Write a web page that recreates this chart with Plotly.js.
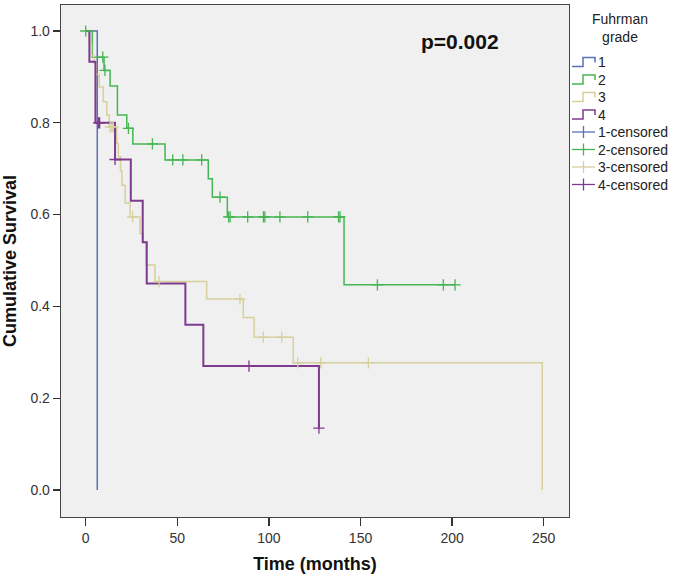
<!DOCTYPE html>
<html><head><meta charset="utf-8">
<script src="https://cdn.plot.ly/plotly-3.0.1.min.js"></script>
<style>html,body{margin:0;padding:0;background:#fff}#chart{width:673px;height:578px}</style>
</head><body><div id="chart"></div>
<script>
// ---- data (time in months, cumulative survival) ----
const grades = ['1', '2', '3', '4'];
const legendTitle = 'Fuhrman<br>grade';
const pText = 'p=0.002';

const g1Time = [0, 6.3];
const g1Surv = [1.0, 0.0];
const g1CensTime = [];
const g1CensSurv = [];

const g2Time = [0, 3.6, 10.0, 13.3, 17.3, 22.4, 25.7, 43.3, 66.9, 69.1, 77.3, 141.0, 201.6];
const g2Surv = [1.0, 0.943, 0.914, 0.880, 0.817, 0.788, 0.754, 0.719, 0.678, 0.638, 0.595, 0.447, 0.447];
const g2CensTime = [0, 9.3, 10.5, 23.3, 36.4, 47.5, 53.0, 63.3, 73.3, 78.0, 78.8, 88.4, 97.0, 97.8, 106.0, 121.2, 138.0, 138.8, 159.2, 195.2, 201.6];
const g2CensSurv = [1.0, 0.943, 0.914, 0.788, 0.754, 0.719, 0.719, 0.719, 0.638, 0.595, 0.595, 0.595, 0.595, 0.595, 0.595, 0.595, 0.595, 0.595, 0.447, 0.447, 0.447];

const g3Time = [0, 2.0, 3.2, 4.5, 5.6, 7.4, 9.6, 11.5, 12.8, 16.9, 17.8, 19.0, 19.8, 21.5, 24.2, 29.6, 31.4, 32.9, 37.8, 66.0, 86.0, 91.9, 113.3, 249.2];
const g3Surv = [1.0, 0.973, 0.946, 0.930, 0.905, 0.878, 0.846, 0.817, 0.791, 0.755, 0.726, 0.695, 0.664, 0.625, 0.595, 0.559, 0.541, 0.490, 0.454, 0.416, 0.376, 0.333, 0.277, 0.0];
const g3CensTime = [13.3, 14.3, 15.1, 25.6, 40.0, 84.2, 96.9, 107.0, 115.7, 128.3, 154.3];
const g3CensSurv = [0.791, 0.791, 0.791, 0.595, 0.454, 0.416, 0.333, 0.333, 0.277, 0.277, 0.277];

const g4Time = [0, 2.0, 5.3, 16.0, 24.6, 31.1, 33.3, 54.4, 64.2, 127.3];
const g4Surv = [1.0, 0.933, 0.800, 0.720, 0.630, 0.540, 0.450, 0.360, 0.270, 0.135];
const g4CensTime = [7.0, 7.6, 16.0, 89.1, 127.3];
const g4CensSurv = [0.800, 0.800, 0.720, 0.270, 0.135];

const xTicks = [0, 50, 100, 150, 200, 250];
const yTicks = [0.0, 0.2, 0.4, 0.6, 0.8, 1.0];

// ---- styling ----
const colors = ['#5a6fb6', '#45b653', '#d6d09c', '#7e3a8e'];
const widths = [1.5, 1.5, 1.5, 2];
const series = [
  {t: g1Time, s: g1Surv, ct: g1CensTime, cs: g1CensSurv},
  {t: g2Time, s: g2Surv, ct: g2CensTime, cs: g2CensSurv},
  {t: g3Time, s: g3Surv, ct: g3CensTime, cs: g3CensSurv},
  {t: g4Time, s: g4Surv, ct: g4CensTime, cs: g4CensSurv}
];

const traces = [];
series.forEach((d, i) => {
  traces.push({x: d.t, y: d.s, type: 'scatter', mode: 'lines', name: grades[i],
    line: {shape: 'hv', color: colors[i], width: widths[i]}, showlegend: false, hoverinfo: 'skip'});
});
series.forEach((d, i) => {
  traces.push({x: d.ct, y: d.cs, type: 'scatter', mode: 'markers', name: grades[i] + '-censored',
    marker: {symbol: 'cross-thin', size: 8, color: colors[i], line: {color: colors[i], width: 1.3}},
    showlegend: false, hoverinfo: 'skip'});
});

// plot area in pixels
const L = 61, R = 569, T = 5, B = 517;
const px = v => (v - L) / (R - L);
const py = v => (B - v) / (B - T);

const shapes = [];
const annotations = [];
const rowY = [62, 79.5, 97, 114.5, 132, 149.5, 167, 184.5];
grades.forEach((g, i) => {
  const y = rowY[i];
  shapes.push({type: 'path', xref: 'paper', yref: 'paper',
    path: `M${px(572)},${py(y + 4.5)} L${px(583)},${py(y + 4.5)} L${px(583)},${py(y - 4.5)} L${px(595)},${py(y - 4.5)} L${px(595)},${py(y + 0.5)}`,
    line: {color: colors[i], width: 1.5}});
  annotations.push({xref: 'paper', yref: 'paper', x: px(596), y: py(y), xanchor: 'left', yanchor: 'middle',
    text: g, showarrow: false, font: {family: 'Liberation Sans, Arial', size: 14, color: '#222'}});
});
grades.forEach((g, i) => {
  const y = rowY[i + 4];
  shapes.push({type: 'line', xref: 'paper', yref: 'paper', x0: px(572), x1: px(595), y0: py(y), y1: py(y),
    line: {color: colors[i], width: 1.3}});
  shapes.push({type: 'line', xref: 'paper', yref: 'paper', x0: px(583.5), x1: px(583.5), y0: py(y - 6), y1: py(y + 6),
    line: {color: colors[i], width: 1.3}});
  annotations.push({xref: 'paper', yref: 'paper', x: px(596), y: py(y), xanchor: 'left', yanchor: 'middle',
    text: g + '-censored', showarrow: false, font: {family: 'Liberation Sans, Arial', size: 14, color: '#222'}});
});
annotations.push({xref: 'paper', yref: 'paper', x: px(620), y: py(27.5), xanchor: 'center', yanchor: 'middle',
  text: legendTitle, showarrow: false, font: {family: 'Liberation Sans, Arial', size: 14, color: '#222'}});
annotations.push({xref: 'paper', yref: 'paper', x: px(460), y: py(41), xanchor: 'center', yanchor: 'middle',
  text: '<b>' + pText + '</b>', showarrow: false, font: {family: 'Liberation Sans, Arial', size: 21, color: '#111'}});

const layout = {
  width: 673, height: 578,
  margin: {l: L, r: 673 - R, t: T, b: 578 - B, pad: 0},
  paper_bgcolor: '#ffffff', plot_bgcolor: '#f0f0f0',
  showlegend: false,
  font: {family: 'Liberation Sans, Arial', size: 14, color: '#333'},
  xaxis: {range: [-13.5, 263.8], tickvals: xTicks, ticktext: xTicks.map(String),
    ticks: 'outside', ticklen: 8, tickcolor: '#333', tickwidth: 1.3,
    showgrid: false, zeroline: false, showline: true, linecolor: '#444', linewidth: 1.3, mirror: true,
    automargin: true,
    title: {text: '<b>Time (months)</b>', font: {size: 18, color: '#111'}, standoff: 12}},
  yaxis: {range: [-0.0588, 1.0566], tickvals: yTicks, ticktext: yTicks.map(v => v.toFixed(1)),
    ticks: 'outside', ticklen: 7, tickcolor: '#333', tickwidth: 1.3,
    showgrid: false, zeroline: false, showline: true, linecolor: '#444', linewidth: 1.3, mirror: true,
    automargin: true,
    title: {text: '<b>Cumulative Survival</b>', font: {size: 18, color: '#111'}, standoff: 12}},
  shapes: shapes,
  annotations: annotations
};

Plotly.newPlot('chart', traces, layout, {displayModeBar: false, staticPlot: true});
</script></body></html>
